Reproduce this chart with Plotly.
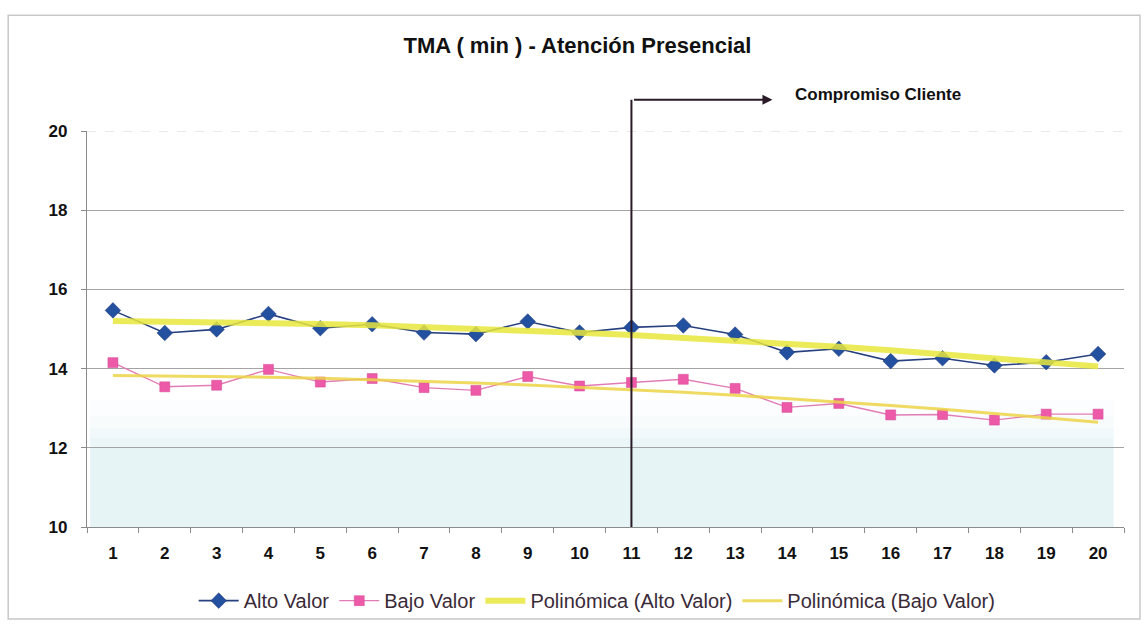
import numpy as np
import plotly.graph_objects as go

# Periodos (semanas) y tiempos medios de atención en minutos
periodos = list(range(1, 21))
alto_valor = [15.47, 14.90, 14.99, 15.38, 15.02, 15.12, 14.91, 14.87, 15.19, 14.91,
              15.04, 15.09, 14.86, 14.41, 14.50, 14.19, 14.26, 14.08, 14.16, 14.37]
bajo_valor = [14.15, 13.54, 13.58, 13.98, 13.66, 13.75, 13.52, 13.45, 13.80, 13.56,
              13.65, 13.73, 13.50, 13.02, 13.12, 12.83, 12.84, 12.70, 12.85, 12.85]
y_ticks = [10, 12, 14, 16, 18, 20]

# Líneas de tendencia polinómicas (orden 2), como en Excel
x_arr = np.array(periodos, dtype=float)
tend_alto = np.polyval(np.polyfit(x_arr, alto_valor, 2), x_arr)
tend_bajo = np.polyval(np.polyfit(x_arr, bajo_valor, 2), x_arr)

FONT = "Liberation Sans, Arial, sans-serif"

fig = go.Figure()

fig.add_trace(go.Scatter(
    x=periodos, y=alto_valor, name="Alto Valor", mode="lines+markers",
    line=dict(color="#27407f", width=1.6),
    marker=dict(symbol="diamond", size=12, color="#2450a0",
                line=dict(color="#1a3570", width=0.5)),
))
fig.add_trace(go.Scatter(
    x=periodos, y=bajo_valor, name="Bajo Valor", mode="lines+markers",
    line=dict(color="#e27cb6", width=1.4),
    marker=dict(symbol="square", size=10, color="#ec5aa8",
                line=dict(color="#d24a94", width=0.5)),
))
fig.add_trace(go.Scatter(
    x=periodos, y=tend_alto, name="Polinómica (Alto Valor)", mode="lines",
    line=dict(color="rgba(232,230,60,0.85)", width=6),
))
fig.add_trace(go.Scatter(
    x=periodos, y=tend_bajo, name="Polinómica (Bajo Valor)", mode="lines",
    line=dict(color="rgba(236,212,70,0.85)", width=3),
))

# Bajo x=11: inicio del compromiso con el cliente
fig.add_shape(type="line", xref="x", yref="paper", x0=11, x1=11, y0=0, y1=1.079,
              line=dict(color="#2a1a28", width=2), layer="above")
fig.add_annotation(xref="x", yref="paper", x=13.72, y=1.079,
                   axref="pixel", ayref="pixel", ax=-140, ay=0,
                   showarrow=True, arrowhead=2, arrowsize=1, arrowwidth=2,
                   arrowcolor="#2a1a28", text="")
fig.add_annotation(xref="x", yref="paper", x=14.11, y=1.091, xanchor="left",
                   yanchor="middle", showarrow=False, text="<b>Compromiso Cliente</b>",
                   font=dict(family=FONT, size=17, color="#111111"))

# Zona inferior sombreada, con transición suave hacia arriba
bandas = [(12.0, 10.0, 0.42), (12.25, 12.0, 0.34), (12.5, 12.25, 0.24),
          (12.8, 12.5, 0.14), (13.2, 12.8, 0.07)]
for y1, y0, op in bandas:
    fig.add_shape(type="rect", xref="paper", yref="y", x0=0.003, x1=0.99, y0=y0, y1=y1,
                  fillcolor=f"rgba(196,228,234,{op})", line=dict(width=0), layer="below")

# Línea superior (20) más tenue y discontinua
fig.add_shape(type="line", xref="paper", yref="y", x0=0, x1=1, y0=20, y1=20,
              line=dict(color="white", width=2), layer="between")
fig.add_shape(type="line", xref="paper", yref="y", x0=0, x1=1, y0=20, y1=20,
              line=dict(color="#d4d4d4", width=1, dash="dash"), layer="between")

# Marco del gráfico
fig.add_shape(type="rect", xref="paper", yref="paper", x0=-0.076, x1=1.0154,
              y0=-0.2325, y1=1.2925, line=dict(color="#c8c8c8", width=1.5),
              fillcolor="rgba(0,0,0,0)", layer="below")

fig.update_layout(
    width=1148, height=632,
    margin=dict(l=87, r=24, t=131, b=101),
    paper_bgcolor="white", plot_bgcolor="white",
    font=dict(family=FONT, color="#111111"),
    title=dict(text="TMA ( min ) - Atención Presencial", x=0.503, xanchor="center",
               y=0.929, yanchor="middle",
               font=dict(family=FONT, size=22, weight="bold", color="#111111")),
    showlegend=True,
    legend=dict(orientation="h", x=0.492, xanchor="center", y=-0.186, yanchor="middle",
                font=dict(family=FONT, size=20, color="#3a2a38"),
                itemwidth=40, tracegroupgap=0, bgcolor="rgba(0,0,0,0)"),
    xaxis=dict(
        range=[0.5, 20.5], tickmode="array", tickvals=periodos,
        ticktext=[str(p) for p in periodos], ticks="", showgrid=False,
        showline=True, linecolor="#8a8a8a", linewidth=1.2, zeroline=False,
        tickfont=dict(family=FONT, size=17, weight="bold", color="#111111"),
        ticklabelstandoff=10,
        minor=dict(tickmode="array", tickvals=[p - 0.5 for p in periodos] + [20.5],
                   ticks="outside", ticklen=5, tickcolor="#8a8a8a", showgrid=False),
    ),
    yaxis=dict(
        range=[10, 20], tickmode="array", tickvals=y_ticks,
        ticktext=[str(v) for v in y_ticks], ticks="outside", ticklen=5,
        tickcolor="#8a8a8a", showgrid=True, gridcolor="#a4a4a4", gridwidth=1,
        showline=True, linecolor="#8a8a8a", linewidth=1.2, zeroline=False,
        tickfont=dict(family=FONT, size=17, weight="bold", color="#111111"),
        ticklabelstandoff=10,
    ),
)

fig.write_html("out.html")
